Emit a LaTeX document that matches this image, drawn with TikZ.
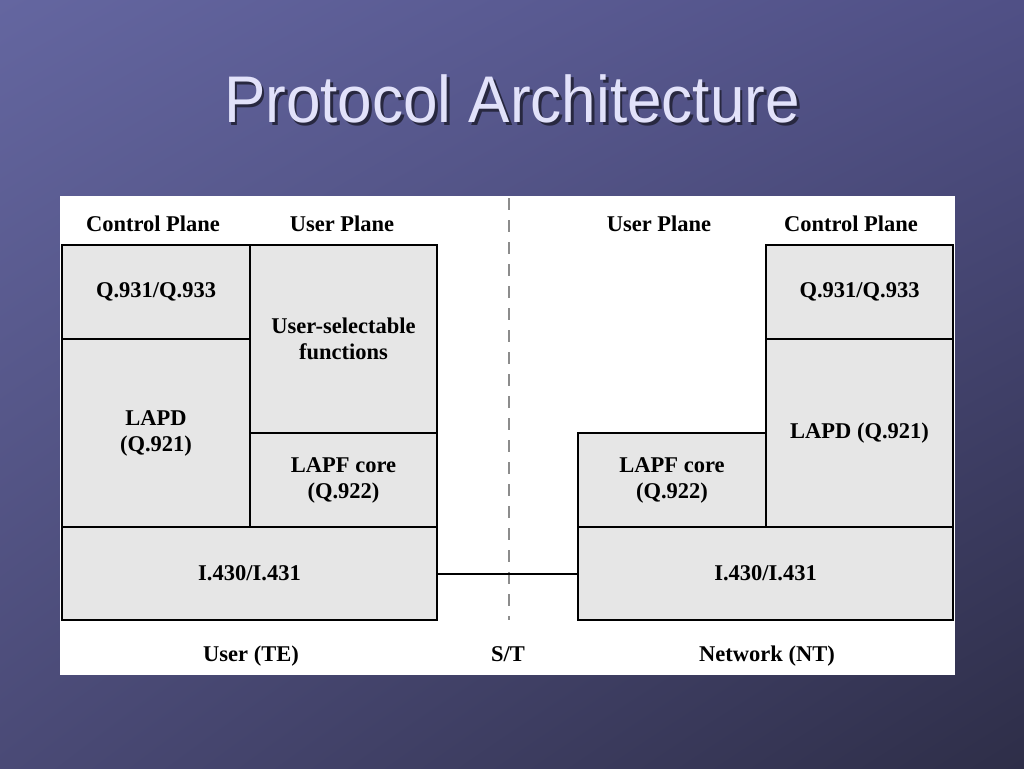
\documentclass[tikz,border=0pt]{standalone}
\usepackage{fontspec}
\setmainfont{Liberation Serif}
\newfontfamily\titlefont{Liberation Sans}
\usetikzlibrary{shadings}
\begin{document}
\begin{tikzpicture}[x=1pt,y=-1pt,
  layer/.style={draw=black,line width=2pt,fill=boxgray,inner sep=0pt,align=center,
    font=\fontsize{22.5}{26}\selectfont\bfseries},
  lbl/.style={inner sep=0pt,anchor=base,font=\fontsize{22.5}{26}\selectfont\bfseries},
  link/.style={draw=black,line width=2pt},
  stline/.style={draw=dashgray,line width=2pt,dash pattern=on 12pt off 10pt}]
\definecolor{boxgray}{RGB}{230,230,230}
\definecolor{dashgray}{RGB}{140,140,140}
\definecolor{titlecol}{RGB}{226,226,250}
\definecolor{titleshadow}{RGB}{40,40,64}
\definecolor{bgUL}{RGB}{100,102,160}
\definecolor{bgUR}{RGB}{80,80,134}
\definecolor{bgLL}{RGB}{74,74,118}
\definecolor{bgLR}{RGB}{46,46,72}
\useasboundingbox (0,0) rectangle (1024,768);
\shade[upper left=bgUL,upper right=bgUR,lower left=bgLL,lower right=bgLR] (0,0) rectangle (1024,768);
% title (with its drop shadow in the same node)
\node[anchor=base,inner sep=0pt,font=\titlefont\fontsize{66}{70}\selectfont,xscale=0.94] (title) at (512,122)
  {\rlap{\hspace{3pt}\raisebox{-3pt}{\color{titleshadow}Protocol Architecture}}\color{titlecol}Protocol Architecture};
% white panel
\fill[white] (60,196) rectangle (955,675);
% column labels
\node[lbl] (cpL) at (153,231) {Control Plane};
\node[lbl] (upL) at (342,231) {User Plane};
\node[lbl] (upR) at (659,231) {User Plane};
\node[lbl] (cpR) at (851,231) {Control Plane};
% left stack
\node[layer,minimum width=188pt,minimum height=94pt] (q931L) at (156,292) {Q.931/Q.933};
\node[layer,minimum width=188pt,minimum height=188pt] (lapdL) at (156,433) {LAPD\\(Q.921)};
\node[layer,minimum width=187pt,minimum height=188pt] (uselL) at (343.5,339) {User-selectable\\functions};
\node[layer,minimum width=187pt,minimum height=94pt] (lapfL) at (343.5,480) {LAPF core\\(Q.922)};
\node[layer,minimum width=375pt,minimum height=93pt] (physL) at (249.5,573.5) {I.430/I.431};
% right stack
\node[layer,minimum width=188pt,minimum height=94pt] (lapfR) at (672,480) {LAPF core\\(Q.922)};
\node[layer,minimum width=187pt,minimum height=94pt] (q931R) at (859.5,292) {Q.931/Q.933};
\node[layer,minimum width=187pt,minimum height=188pt] (lapdR) at (859.5,433) {LAPD (Q.921)};
\node[layer,minimum width=375pt,minimum height=93pt] (physR) at (765.5,573.5) {I.430/I.431};
% S/T reference point
\coordinate (stTop) at (509,198);
\coordinate (stBot) at (509,620);
\draw[stline] (stTop) -- (stBot);
\draw[link] (physL) -- (physR);
% bottom labels
\node[lbl] (userTE) at (251,661) {User (TE)};
\node[lbl] (st) at (508,661) {S/T};
\node[lbl] (netNT) at (767,661) {Network (NT)};
\end{tikzpicture}
\end{document}
